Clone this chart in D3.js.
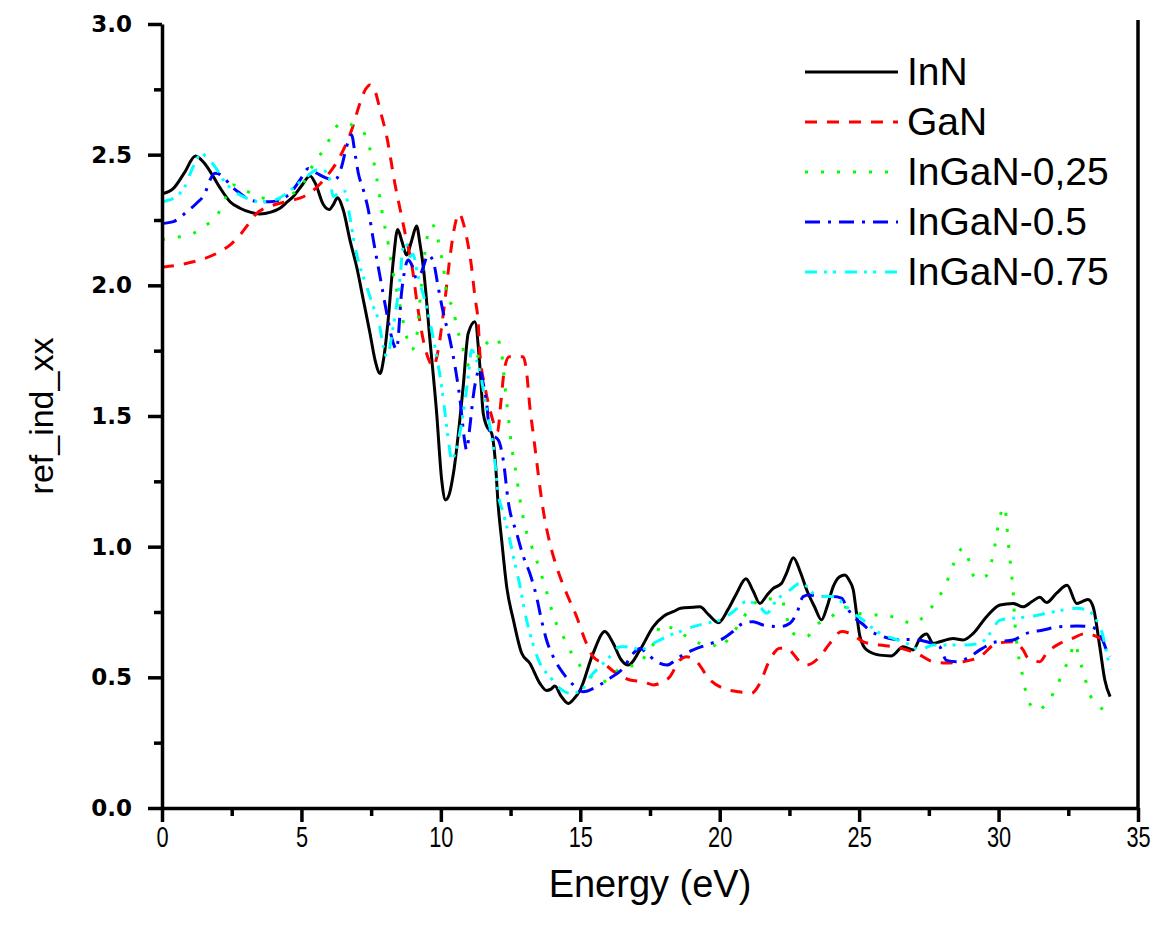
<!DOCTYPE html>
<html>
<head>
<meta charset="utf-8">
<script src="https://cdn.jsdelivr.net/npm/d3@7/dist/d3.min.js"></script>
<style>
  html, body { margin: 0; padding: 0; background: #fff; }
  svg { display: block; }
</style>
</head>
<body>
<svg id="chart" width="1165" height="933"></svg>
<script>
// ---------------- data ----------------
const seriesNames = ["InN", "GaN", "InGaN-0,25", "InGaN-0.5", "InGaN-0.75"];
const xTickValues = [0, 5, 10, 15, 20, 25, 30, 35];
const yTickValues = [0.0, 0.5, 1.0, 1.5, 2.0, 2.5, 3.0];
const xLabel = "Energy (eV)";
const yLabel = "ref_ind_xx";

// [energy (eV), refractive index]
const inN = [[0,2.35],[0.4,2.37],[0.8,2.43],[1.2,2.495],[1.5,2.47],[1.84,2.416],[2.1,2.37],[2.44,2.32],[2.8,2.295],[3.16,2.28],[3.51,2.273],[3.9,2.28],[4.23,2.295],[4.5,2.32],[4.71,2.34],[5.0,2.38],[5.31,2.418],[5.5,2.39],[5.78,2.31],[6.0,2.29],[6.15,2.31],[6.29,2.335],[6.5,2.288],[6.74,2.173],[6.98,2.071],[7.22,1.944],[7.46,1.816],[7.64,1.714],[7.82,1.663],[7.95,1.72],[8.11,1.867],[8.3,2.1],[8.45,2.214],[8.6,2.17],[8.77,2.116],[8.95,2.17],[9.13,2.227],[9.25,2.16],[9.37,2.07],[9.61,1.79],[9.85,1.51],[10.03,1.255],[10.17,1.179],[10.3,1.2],[10.45,1.28],[10.8,1.612],[10.98,1.816],[11.22,1.861],[11.4,1.689],[11.52,1.51],[11.65,1.46],[11.82,1.434],[11.95,1.33],[12.06,1.153],[12.18,1.026],[12.36,0.847],[12.6,0.72],[12.9,0.592],[13.19,0.554],[13.55,0.477],[13.79,0.45],[13.95,0.455],[14.09,0.467],[14.3,0.43],[14.57,0.40],[14.75,0.415],[14.99,0.45],[15.46,0.592],[15.88,0.675],[16.18,0.63],[16.45,0.57],[16.72,0.547],[17.14,0.605],[17.62,0.694],[18.0,0.735],[18.33,0.751],[18.6,0.764],[19.05,0.768],[19.29,0.77],[19.6,0.74],[19.95,0.709],[20.3,0.76],[20.6,0.82],[20.94,0.877],[21.2,0.83],[21.44,0.783],[21.7,0.815],[21.92,0.84],[22.22,0.86],[22.4,0.9],[22.64,0.958],[22.9,0.9],[23.12,0.834],[23.4,0.77],[23.65,0.72],[23.85,0.77],[24.07,0.847],[24.3,0.885],[24.49,0.892],[24.65,0.87],[24.79,0.834],[24.9,0.75],[25.03,0.656],[25.27,0.605],[25.74,0.585],[26.16,0.582],[26.58,0.617],[26.94,0.605],[27.18,0.649],[27.42,0.666],[27.65,0.63],[27.89,0.636],[28.37,0.649],[28.73,0.643],[29.09,0.668],[29.57,0.732],[30.05,0.777],[30.52,0.783],[30.88,0.77],[31.2,0.79],[31.48,0.806],[31.72,0.786],[32.08,0.822],[32.46,0.852],[32.8,0.783],[33.0,0.79],[33.21,0.798],[33.39,0.77],[33.63,0.617],[33.81,0.49],[34.0,0.426]];

const gaN = [[0,2.07],[0.7,2.08],[1.36,2.097],[2.08,2.129],[2.5,2.16],[2.8,2.193],[3.1,2.235],[3.39,2.275],[3.8,2.3],[4.23,2.314],[4.65,2.325],[5.07,2.339],[5.5,2.37],[5.9,2.416],[6.38,2.492],[6.8,2.594],[7.1,2.697],[7.3,2.75],[7.46,2.767],[7.65,2.74],[7.82,2.671],[8.06,2.569],[8.35,2.39],[8.6,2.26],[8.77,2.173],[8.95,2.084],[9.15,1.93],[9.37,1.79],[9.55,1.72],[9.73,1.689],[9.9,1.75],[10.09,1.893],[10.33,2.11],[10.45,2.2],[10.66,2.275],[10.8,2.24],[10.92,2.186],[11.1,2.071],[11.22,1.957],[11.34,1.855],[11.4,1.74],[11.58,1.612],[11.82,1.5],[12.03,1.44],[12.15,1.55],[12.28,1.68],[12.45,1.727],[12.95,1.727],[13.08,1.663],[13.19,1.536],[13.31,1.434],[13.43,1.332],[13.55,1.229],[13.67,1.14],[13.91,1.013],[14.15,0.923],[14.51,0.821],[14.87,0.732],[15.17,0.643],[15.46,0.579],[15.82,0.554],[16.3,0.515],[16.78,0.49],[17.26,0.483],[17.62,0.471],[17.9,0.48],[18.21,0.502],[18.57,0.566],[18.81,0.579],[19.17,0.56],[19.65,0.49],[20.13,0.458],[20.66,0.445],[21.14,0.439],[21.44,0.477],[21.74,0.554],[22.16,0.611],[22.4,0.611],[22.88,0.56],[23.12,0.547],[23.59,0.579],[23.95,0.63],[24.37,0.675],[24.79,0.662],[25.15,0.636],[25.74,0.624],[26.22,0.617],[26.7,0.605],[27.06,0.592],[27.65,0.56],[28.13,0.555],[28.73,0.56],[29.33,0.579],[29.93,0.63],[30.52,0.636],[30.88,0.605],[31.06,0.573],[31.48,0.56],[31.72,0.592],[32.2,0.63],[32.56,0.645],[33.15,0.668],[33.51,0.656],[33.8,0.64],[34.0,0.62]];

const inGaN025 = [[0,2.175],[0.64,2.186],[1.12,2.199],[1.54,2.227],[2.02,2.275],[2.3,2.34],[2.56,2.384],[2.92,2.365],[3.39,2.346],[3.8,2.33],[4.2,2.33],[4.6,2.345],[5.0,2.38],[5.3,2.44],[5.67,2.499],[5.9,2.537],[6.2,2.6],[6.45,2.62],[6.7,2.618],[6.98,2.6],[7.22,2.588],[7.4,2.537],[7.58,2.48],[7.7,2.41],[7.82,2.33],[7.94,2.25],[8.06,2.19],[8.29,2.046],[8.53,1.925],[8.77,1.804],[8.95,1.753],[9.13,1.804],[9.3,2.0],[9.49,2.173],[9.67,2.231],[9.8,2.22],[9.97,2.135],[10.09,2.071],[10.21,1.97],[10.45,1.906],[10.57,1.842],[10.74,1.778],[11.04,1.689],[11.4,1.74],[11.76,1.79],[12.0,1.797],[12.18,1.74],[12.3,1.612],[12.42,1.497],[12.54,1.38],[12.66,1.306],[12.84,1.179],[13.02,1.076],[13.26,1.0],[13.55,0.911],[13.79,0.828],[14.09,0.719],[14.39,0.656],[14.69,0.592],[14.99,0.545],[15.29,0.512],[15.77,0.48],[16.18,0.515],[16.6,0.541],[17.08,0.547],[17.38,0.592],[17.74,0.656],[17.86,0.7],[18.1,0.695],[18.33,0.687],[18.81,0.656],[19.29,0.63],[19.77,0.625],[19.95,0.611],[20.37,0.656],[20.72,0.707],[21.08,0.764],[21.44,0.796],[21.8,0.8],[22.22,0.796],[22.4,0.732],[22.52,0.681],[22.8,0.66],[23.12,0.656],[23.47,0.7],[24.01,0.732],[24.43,0.77],[24.79,0.751],[25.39,0.739],[25.92,0.739],[26.46,0.72],[26.94,0.707],[27.42,0.745],[27.78,0.796],[28.07,0.847],[28.31,0.911],[28.49,0.962],[28.73,0.994],[28.97,0.936],[29.15,0.879],[29.51,0.885],[29.75,0.943],[29.87,1.006],[30.05,1.115],[30.23,1.153],[30.29,1.089],[30.34,1.026],[30.4,0.962],[30.46,0.898],[30.52,0.834],[30.58,0.719],[30.7,0.592],[30.82,0.528],[31.06,0.413],[31.36,0.375],[31.78,0.407],[32.08,0.464],[32.32,0.522],[32.56,0.579],[32.73,0.63],[32.91,0.566],[33.09,0.502],[33.21,0.452],[33.51,0.40],[34.0,0.365]];

const inGaN05 = [[0,2.237],[0.41,2.244],[0.89,2.282],[1.24,2.314],[1.54,2.352],[1.72,2.403],[1.9,2.429],[2.2,2.416],[2.44,2.384],[2.8,2.352],[3.16,2.327],[3.51,2.32],[3.87,2.32],[4.23,2.327],[4.59,2.352],[4.95,2.403],[5.25,2.447],[5.55,2.429],[5.9,2.41],[6.2,2.403],[6.44,2.454],[6.62,2.531],[6.8,2.575],[6.92,2.505],[7.04,2.429],[7.22,2.365],[7.4,2.288],[7.58,2.173],[7.82,2.033],[8.06,1.893],[8.29,1.78],[8.41,1.755],[8.6,1.982],[8.83,2.097],[8.95,2.08],[9.13,2.026],[9.3,2.05],[9.55,2.116],[9.73,2.09],[9.91,1.99],[10.09,1.893],[10.33,1.79],[10.51,1.689],[10.69,1.56],[10.86,1.40],[10.92,1.37],[11.04,1.459],[11.16,1.574],[11.28,1.65],[11.4,1.68],[11.52,1.625],[11.64,1.55],[11.76,1.434],[12.06,1.408],[12.24,1.33],[12.42,1.17],[12.72,1.051],[12.96,0.962],[13.19,0.898],[13.43,0.809],[13.61,0.719],[13.79,0.643],[14.09,0.566],[14.39,0.515],[14.75,0.471],[15.1,0.445],[15.58,0.464],[16.06,0.496],[16.54,0.535],[16.9,0.592],[17.14,0.61],[17.4,0.59],[17.74,0.56],[18.1,0.547],[18.57,0.579],[19.05,0.605],[19.53,0.624],[20.13,0.649],[20.54,0.681],[20.84,0.707],[21.2,0.713],[21.56,0.7],[22.16,0.694],[22.52,0.707],[22.76,0.745],[22.99,0.809],[23.2,0.815],[23.65,0.809],[24.07,0.809],[24.37,0.803],[24.55,0.77],[24.79,0.732],[25.09,0.707],[25.45,0.675],[25.86,0.656],[26.34,0.645],[26.94,0.645],[27.42,0.636],[27.89,0.617],[28.13,0.565],[28.49,0.56],[28.97,0.579],[29.33,0.605],[29.93,0.636],[30.52,0.643],[31.0,0.668],[31.6,0.681],[32.2,0.694],[32.8,0.696],[33.27,0.694],[33.63,0.668],[33.87,0.605],[34.0,0.58]];

const inGaN075 = [[0,2.32],[0.41,2.333],[0.82,2.378],[1.12,2.454],[1.42,2.505],[1.6,2.49],[1.9,2.454],[2.2,2.403],[2.62,2.358],[3.04,2.333],[3.51,2.32],[4.05,2.327],[4.47,2.352],[4.83,2.384],[5.19,2.416],[5.55,2.441],[5.78,2.441],[6.02,2.403],[6.14,2.34],[6.35,2.355],[6.55,2.36],[6.74,2.26],[6.92,2.148],[7.1,2.071],[7.34,1.995],[7.58,1.918],[7.76,1.867],[7.94,1.765],[8.06,1.727],[8.29,1.842],[8.53,2.02],[8.65,2.148],[8.75,2.16],[8.89,2.11],[9.0,2.12],[9.15,2.05],[9.3,1.99],[9.49,1.918],[9.67,1.829],[9.85,1.727],[10.03,1.612],[10.15,1.51],[10.27,1.408],[10.39,1.332],[10.57,1.383],[10.8,1.51],[10.98,1.65],[11.1,1.753],[11.28,1.714],[11.46,1.638],[11.58,1.561],[11.76,1.459],[11.88,1.383],[12.06,1.2],[12.24,1.128],[12.42,1.051],[12.6,0.962],[12.84,0.847],[13.02,0.745],[13.26,0.643],[13.55,0.554],[13.91,0.502],[14.27,0.458],[14.63,0.439],[14.99,0.445],[15.35,0.502],[15.7,0.541],[16.06,0.579],[16.42,0.617],[16.78,0.617],[17.14,0.605],[17.62,0.63],[18.1,0.656],[18.57,0.675],[19.05,0.694],[19.53,0.707],[20.01,0.719],[20.48,0.751],[20.96,0.79],[21.44,0.77],[21.68,0.745],[22.04,0.796],[22.52,0.834],[22.88,0.86],[23.1,0.85],[23.35,0.822],[23.71,0.809],[24.07,0.809],[24.43,0.783],[24.79,0.745],[25.15,0.719],[25.5,0.687],[25.86,0.662],[26.22,0.649],[26.7,0.63],[27.18,0.605],[27.65,0.624],[28.13,0.624],[28.73,0.624],[29.33,0.63],[29.69,0.668],[30.05,0.719],[30.52,0.726],[31.12,0.732],[31.72,0.745],[32.32,0.758],[32.8,0.764],[33.15,0.758],[33.51,0.719],[33.75,0.656],[33.93,0.566],[34.0,0.53]];

const seriesData = [inN, gaN, inGaN025, inGaN05, inGaN075];

// ---------------- styles ----------------
const colors = ["#000000", "#ff0000", "#00ff00", "#0000ff", "#00ffff"];
const dashes = [null, "12,10", "3,13", "15,8,3,8", "12,7,3,6,3,9"];

// ---------------- layout ----------------
const svg = d3.select("#chart");
const plot = { left: 162, right: 1138, top: 24, bottom: 808 };
const x = d3.scaleLinear().domain([0, 35]).range([plot.left, plot.right]);
const y = d3.scaleLinear().domain([0, 3]).range([plot.bottom, plot.top]);

svg.append("clipPath").attr("id", "clip")
  .append("rect").attr("x", plot.left).attr("y", plot.top - 5)
  .attr("width", plot.right - plot.left).attr("height", plot.bottom - plot.top + 5);

const line = d3.line().x(d => x(d[0])).y(d => y(d[1])).curve(d3.curveMonotoneX);
const gLines = svg.append("g").attr("clip-path", "url(#clip)");
seriesData.forEach((data, i) => {
  gLines.append("path")
    .datum(data)
    .attr("d", line)
    .attr("fill", "none")
    .attr("stroke", colors[i])
    .attr("stroke-width", 3)
    .attr("stroke-linejoin", "round")
    .attr("stroke-dasharray", dashes[i]);
});

// axes
const axisStroke = 3.5;
const xAxis = d3.axisBottom(x).tickValues(xTickValues).tickSize(14).tickSizeOuter(0).tickFormat(d3.format("d")).tickPadding(4);
const xMinor = d3.axisBottom(x).tickValues(xTickValues.slice(0, -1).map(v => v + 2.5)).tickSize(8).tickSizeOuter(0).tickFormat("");
const yAxis = d3.axisLeft(y).tickValues(yTickValues).tickSize(14).tickSizeOuter(0).tickFormat(d3.format(".1f")).tickPadding(16);
const yMinor = d3.axisLeft(y).tickValues(yTickValues.slice(0, -1).map(v => v + 0.25)).tickSize(8).tickSizeOuter(0).tickFormat("");

const gx = svg.append("g").attr("transform", `translate(0,${plot.bottom})`).call(xAxis);
svg.append("g").attr("transform", `translate(0,${plot.bottom})`).call(xMinor)
  .call(g => g.select(".domain").remove())
  .call(g => g.selectAll("line").attr("stroke", "#000").attr("stroke-width", axisStroke));
gx.select(".domain").attr("stroke", "#000").attr("stroke-width", axisStroke);
gx.selectAll(".tick line").attr("stroke", "#000").attr("stroke-width", axisStroke);
gx.selectAll(".tick text")
  .attr("font-family", "'Liberation Sans', Arial, sans-serif")
  .attr("font-size", 29).attr("fill", "#000")
  .attr("transform", "scale(0.75,1)");

const gy = svg.append("g").attr("transform", `translate(${plot.left},0)`).call(yAxis);
svg.append("g").attr("transform", `translate(${plot.left},0)`).call(yMinor)
  .call(g => g.select(".domain").remove())
  .call(g => g.selectAll("line").attr("stroke", "#000").attr("stroke-width", axisStroke));
gy.select(".domain").attr("stroke", "#000").attr("stroke-width", axisStroke);
gy.selectAll(".tick line").attr("stroke", "#000").attr("stroke-width", axisStroke);
gy.selectAll(".tick text")
  .attr("font-family", "'DejaVu Sans', sans-serif")
  .attr("font-weight", "bold")
  .attr("font-size", 23).attr("fill", "#000");

// right frame line
svg.append("line")
  .attr("x1", plot.right).attr("x2", plot.right)
  .attr("y1", plot.top - 4).attr("y2", plot.bottom)
  .attr("stroke", "#000").attr("stroke-width", axisStroke);

// axis titles
svg.append("text")
  .attr("x", (plot.left + plot.right) / 2).attr("y", 897)
  .attr("text-anchor", "middle")
  .attr("font-family", "'Liberation Sans', Arial, sans-serif")
  .attr("font-size", 38).attr("fill", "#000")
  .text(xLabel);

svg.append("text")
  .attr("transform", `translate(53,${(plot.top + plot.bottom) / 2}) rotate(-90)`)
  .attr("text-anchor", "middle")
  .attr("font-family", "'Liberation Sans', Arial, sans-serif")
  .attr("font-size", 34).attr("fill", "#000")
  .text(yLabel);

// legend
const legend = svg.append("g");
const legY0 = 72, legDy = 50;
seriesNames.forEach((name, i) => {
  const yy = legY0 + i * legDy;
  legend.append("line")
    .attr("x1", 805).attr("x2", 898).attr("y1", yy).attr("y2", yy)
    .attr("stroke", colors[i]).attr("stroke-width", 3)
    .attr("stroke-dasharray", dashes[i]);
  legend.append("text")
    .attr("x", 907).attr("y", yy + 13)
    .attr("font-family", "'Liberation Sans', Arial, sans-serif")
    .attr("font-size", 39).attr("fill", "#000")
    .text(name);
});
</script>
</body>
</html>
